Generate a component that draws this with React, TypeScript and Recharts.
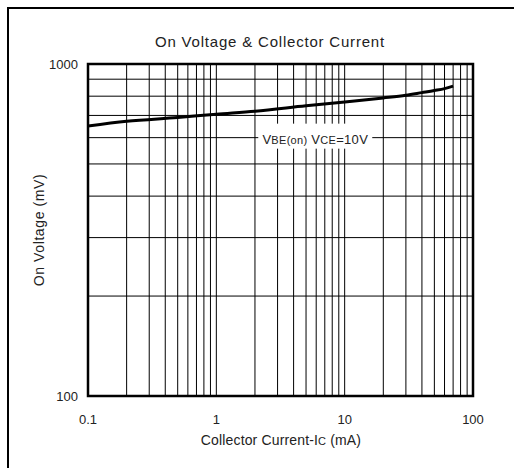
import {
  CartesianGrid,
  Line,
  LineChart,
  ReferenceArea,
  ReferenceDot,
  XAxis,
  YAxis,
} from 'recharts'

const CURRENT_MA = [0.1, 0.2, 0.5, 1, 2, 5, 10, 20, 30, 40, 50, 60, 70]
const VBE_ON_MV = [650, 672, 690, 706, 721, 748, 768, 790, 805, 820, 832, 843, 858]

const X_GRID_TICKS = [
  0.1, 0.2, 0.3, 0.4, 0.5, 0.6, 0.7, 0.8, 0.9,
  1, 2, 3, 4, 5, 6, 7, 8, 9,
  10, 20, 30, 40, 50, 60, 70, 80, 90,
  100,
]
const X_LABELS = [0.1, 1, 10, 100]

const Y_GRID_TICKS = [100, 200, 300, 400, 500, 600, 700, 800, 900, 1000]
const Y_LABELS = [100, 1000]

const ANNOT_X = 5.9
const ANNOT_Y = 600

const FONT = '"Liberation Sans", Arial, sans-serif'
const INK = '#222'

const data = CURRENT_MA.map((ic, i) => ({ ic, vbe: VBE_ON_MV[i] }))

function AnnotationBox(props: any) {
  const { cx, cy } = props
  if (cx == null || cy == null) return null
  return (
    <g>
      <rect x={cx - 57} y={cy - 14} width={114} height={25} fill="#fff" />
      <text x={cx} y={cy + 6} textAnchor="middle" fontFamily={FONT} fill={INK} fontSize={13} letterSpacing={0.3}>
        <tspan>V</tspan>
        <tspan fontSize={11}>BE(on)</tspan>
        <tspan> V</tspan>
        <tspan fontSize={11}>CE</tspan>
        <tspan>=10V</tspan>
      </text>
    </g>
  )
}

export default function App() {
  return (
    <div style={{ position: 'absolute', left: 0, top: 0, width: 514, height: 468, background: '#fff', overflow: 'hidden' }}>
      <LineChart width={514} height={468} data={data} margin={{ top: 64, right: 41, bottom: 42, left: 28 }}>
        <CartesianGrid stroke="#000" strokeWidth={1} />
        <XAxis
          dataKey="ic"
          type="number"
          scale="log"
          domain={[0.1, 100]}
          ticks={X_GRID_TICKS}
          interval={0}
          allowDataOverflow
          height={30}
          tickLine={false}
          axisLine={false}
          tickSize={17}
          tickMargin={2}
          tickFormatter={(v: number) => (X_LABELS.includes(v) ? String(v) : '')}
          tick={{ fill: INK, fontSize: 13, fontFamily: FONT }}
        />
        <YAxis
          dataKey="vbe"
          type="number"
          scale="log"
          domain={[100, 1000]}
          ticks={Y_GRID_TICKS}
          interval={0}
          allowDataOverflow
          width={60}
          tickLine={false}
          axisLine={false}
          tickSize={8}
          tickMargin={2}
          tickFormatter={(v: number) => (Y_LABELS.includes(v) ? String(v) : '')}
          tick={{ fill: INK, fontSize: 13, fontFamily: FONT }}
        />
        <ReferenceArea
          x1={0.1}
          x2={100}
          y1={100}
          y2={1000}
          fill="none"
          stroke="#000"
          strokeWidth={2.5}
          ifOverflow="visible"
        />
        <ReferenceDot x={ANNOT_X} y={ANNOT_Y} r={0} shape={AnnotationBox} ifOverflow="visible" />
        <Line
          dataKey="vbe"
          type="monotone"
          stroke="#000"
          strokeWidth={3}
          dot={false}
          isAnimationActive={false}
        />
      </LineChart>
      <svg
        width={514}
        height={468}
        style={{ position: 'absolute', left: 0, top: 0, pointerEvents: 'none' }}
      >
        <rect x={8} y={8} width={600} height={600} fill="none" stroke="#000" strokeWidth={2} />
        <text x={270} y={47} textAnchor="middle" fontFamily={FONT} fontSize={15} fill={INK} letterSpacing={0.8}>
          On Voltage &amp; Collector Current
        </text>
        <text x={281} y={445} textAnchor="middle" fontFamily={FONT} fontSize={14} fill={INK} letterSpacing={0.15}>
          Collector Current-I<tspan fontSize={11}>C</tspan> (mA)
        </text>
        <text
          x={39}
          y={230}
          dy="0.35em"
          textAnchor="middle"
          fontFamily={FONT}
          fontSize={14}
          fill={INK}
          letterSpacing={0.6}
          transform="rotate(-90 39 230)"
        >
          On Voltage (mV)
        </text>
      </svg>
    </div>
  )
}
